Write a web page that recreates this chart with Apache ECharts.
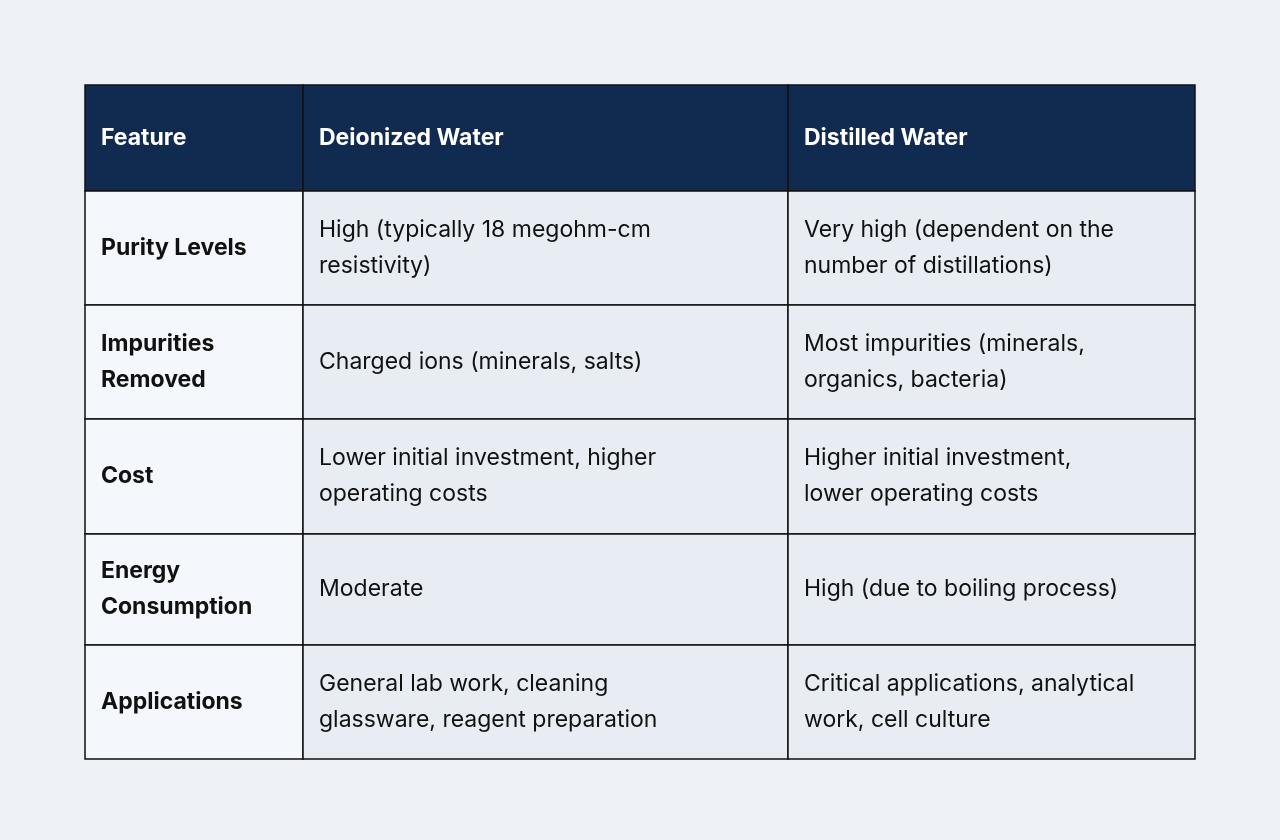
<!DOCTYPE html>
<html><head><meta charset="utf-8">
<script src="https://cdn.jsdelivr.net/npm/echarts@6/dist/echarts.min.js"></script>
<style>html,body{margin:0;background:#edf1f6}#c{width:1280px;height:840px}</style>
</head><body><div id="c"></div>
<script>
const headers = ["Feature", "Deionized Water", "Distilled Water"];
const features = ["Purity Levels", "Impurities\nRemoved", "Cost", "Energy\nConsumption", "Applications"];
const deionized = ["High (typically 18 megohm-cm\nresistivity)", "Charged ions (minerals, salts)", "Lower initial investment, higher\noperating costs", "Moderate", "General lab work, cleaning\nglassware, reagent preparation"];
const distilled = ["Very high (dependent on the\nnumber of distillations)", "Most impurities (minerals,\norganics, bacteria)", "Higher initial investment,\nlower operating costs", "High (due to boiling process)", "Critical applications, analytical\nwork, cell culture"];

const colX = [85, 303, 788, 1195];
const rowY = [85, 191, 305, 419, 534, 645, 759];
const els = [];
const font = 'Inter, "Noto Sans", sans-serif';
function cell(r, c, txt, header) {
  const x = colX[c], y = rowY[r], w = colX[c+1]-x, h = rowY[r+1]-y;
  const fill = header ? '#112a50' : (c === 0 ? '#f4f7fb' : '#e8edf4');
  els.push({type:'rect', shape:{x, y, width:w, height:h}, style:{fill, stroke:'#111', lineWidth:1.5}});
  els.push({type:'text', x:x+16, y:y+h/2, style:{text:txt, fill: header?'#fff':'#111', font:(header||c===0?'bold ':'')+'23px '+font, textVerticalAlign:'middle', lineHeight:36}});
}
headers.forEach((h,i)=>cell(0,i,h,true));
features.forEach((f,i)=>{cell(i+1,0,f); cell(i+1,1,deionized[i]); cell(i+1,2,distilled[i]);});
const chart = echarts.init(document.getElementById('c'));
chart.setOption({backgroundColor:'#edf1f6', graphic:els});
</script></body></html>
